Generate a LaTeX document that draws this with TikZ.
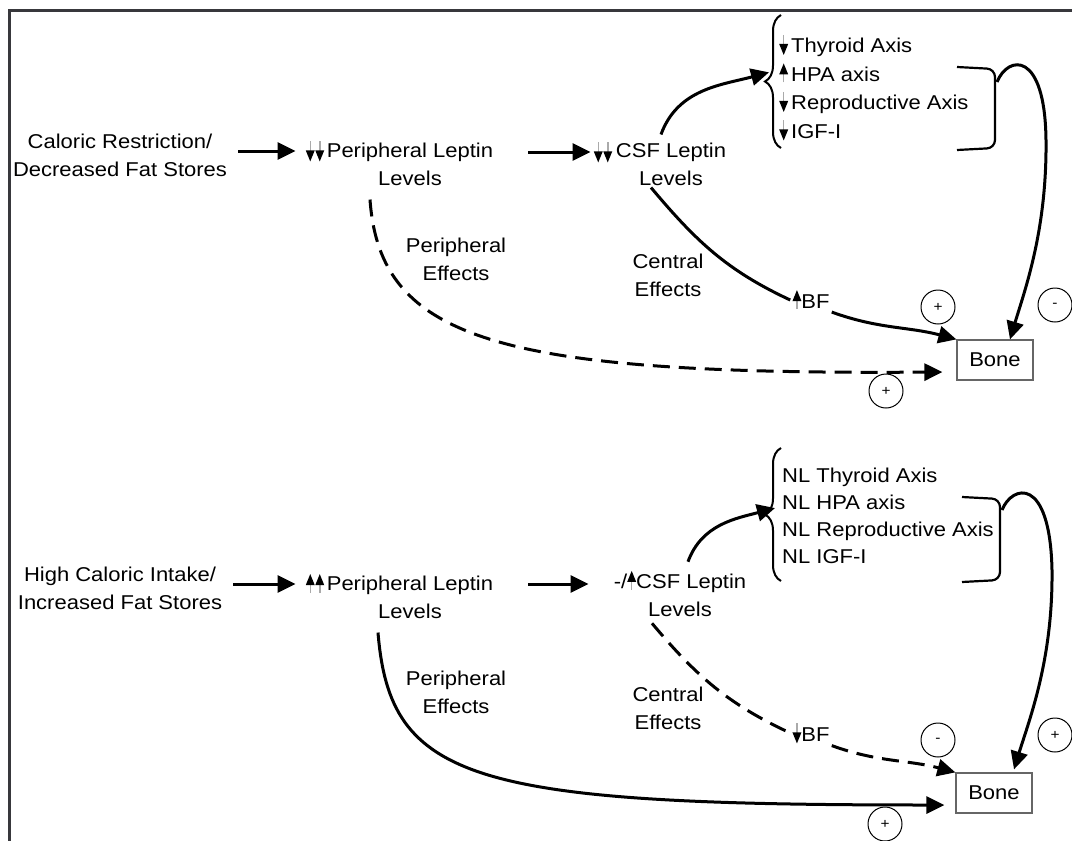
\documentclass[tikz,border=0pt]{standalone}
\usepackage{fontspec}
\setmainfont{Liberation Sans}[FakeStretch=1.1]
\usetikzlibrary{
  arrows.meta,
  decorations.pathreplacing,
}
\definecolor{framegray}{RGB}{56,56,60}
\definecolor{shaftgray}{RGB}{170,170,170}

% little up/down marks set in the text
\newcommand{\dnmark}{\tikz[baseline=0pt,x=1pt,y=1pt]{\draw[shaftgray,line width=1.5pt] (0,18)--(0,8);\fill[black] (-4.5,9)--(4.5,9)--(0,-2)--cycle;}}
\newcommand{\upmark}{\tikz[baseline=0pt,x=1pt,y=1pt]{\draw[shaftgray,line width=1.5pt] (0,-1)--(0,8);\fill[black] (-4.5,7)--(4.5,7)--(0,18)--cycle;}}

\begin{document}
\begin{tikzpicture}[
  x=1pt, y=-1pt,
  font=\fontsize{20}{28}\selectfont,
  every node/.style={inner sep=2pt},
  txt/.style={align=center},
  link/.style={line width=3pt},
  dlink/.style={link, dash pattern=on 17pt off 9pt},
  arr/.style={link, -{Triangle[length=18pt,width=17pt]}},
  darr/.style={dlink, -{Triangle[length=18pt,width=17pt]}},
  bonebox/.style={draw=gray!80!black, line width=1.2pt, minimum width=76pt, minimum height=40pt},
  signring/.style={draw, circle, line width=1pt, minimum size=34pt, inner sep=0pt, font=\fontsize{14}{14}\selectfont},
  axes/.style={align=left, anchor=north west, inner sep=1pt},
  axbrace/.style={line width=2pt, decorate, decoration={brace, amplitude=16pt}},
  axbracket/.style={line width=2.2pt, rounded corners=8pt},
]
\useasboundingbox (0,0) rectangle (1072,841);
\draw[framegray, line width=3pt] (8,10.5) -- (1072,10.5);
\draw[framegray, line width=3pt] (9.5,9) -- (9.5,841);

% restriction
\node[txt] (restrict) at (120,155) {Caloric Restriction/\\Decreased Fat Stores};
\node[inner sep=0pt] (pdnA) at (315,151) {\dnmark\hspace{0.5pt}\dnmark};
\node[txt] (plepA) at (410,164) {Peripheral Leptin\\Levels};
\node[inner sep=0pt] (cdnA) at (603,152) {\dnmark\hspace{0.5pt}\dnmark};
\node[txt] (ccsfA) at (671,164) {CSF Leptin\\Levels};
\node[axes, font=\fontsize{20}{28.5}\selectfont] (axesA) at (778,33)
  {\dnmark\hspace{3pt}Thyroid Axis\\\upmark\hspace{3pt}HPA axis\\\dnmark\hspace{3pt}Reproductive Axis\\\dnmark\hspace{3pt}IGF-I};
\node[txt] (pefA) at (456,259) {Peripheral\\Effects};
\node[txt] (cefA) at (668,275) {Central\\Effects};
\node (bfA) at (811,300) {\upmark BF};
\node[bonebox] (boneA) at (995,360) {Bone};
\node[signring] (sA1) at (938,307) {+};
\node[signring] (sA2) at (1055,305) {-};
\node[signring] (sA3) at (886,391) {+};
\draw[axbrace] (781,148) -- (781,15);
\draw[axbracket] (957,67) -- (995,69) -- (995,148) -- (957,150);
\coordinate (brkA) at (997,82);

\draw[arr, shorten <=9pt, shorten >=10pt] (restrict.east |- pdnA) -- (pdnA.west);
\draw[arr, shorten <=33pt, shorten >=3pt] (plepA.east |- cdnA) -- (cdnA.west);
\draw[arr] ([shift={(-10,-6)}]ccsfA.north) to[out=70,in=195] ([shift={(-9,-15)}]axesA.west);
\draw[link] ([xshift=-20pt]ccsfA.south) to[out=-50,in=155] (bfA.west);
\draw[arr] (bfA.south east) to[out=-20,in=165] (boneA.north west);
\draw[darr] ([shift={(-40,12)}]plepA.south) .. controls +(10,141) and +(-443,3) .. ([shift={(-14,12)}]boneA.west);
\draw[arr] (brkA) .. controls +(11,-27) and +(-1,-90) .. (1046,140) .. controls +(1,90) and +(15,-50) .. ([xshift=15pt]boneA.north);

% intake
\node[txt] (intake) at (120,588) {High Caloric Intake/\\Increased Fat Stores};
\node[inner sep=0pt] (pupB) at (315,584) {\upmark\hspace{0.5pt}\upmark};
\node[txt] (plepB) at (410,597) {Peripheral Leptin\\Levels};
\node[txt] (ccsfB) at (680,594) {-/\upmark CSF Leptin\\Levels};
\node[axes, font=\fontsize{20}{27}\selectfont] (axesB) at (781,467)
  {NL Thyroid Axis\\NL HPA axis\\NL Reproductive Axis\\NL IGF-I};
\node[txt] (pefB) at (456,692) {Peripheral\\Effects};
\node[txt] (cefB) at (668,708) {Central\\Effects};
\node (bfB) at (811,733) {\dnmark BF};
\node[bonebox] (boneB) at (994,793) {Bone};
\node[signring] (sB1) at (938,740) {-};
\node[signring] (sB2) at (1055,735) {+};
\node[signring] (sB3) at (885,824) {+};
\draw[axbrace] (781,581) -- (781,448);
\draw[axbracket] (962,497) -- (1000,499) -- (1000,580) -- (962,582);
\coordinate (brkB) at (1002,510);

\draw[arr, shorten <=9pt, shorten >=10pt] (intake.east |- pupB) -- (pupB.west);
\draw[arr, shorten <=33pt, shorten >=23pt] (plepB.east |- pupB) -- (ccsfB.west |- pupB);
\draw[arr] ([shift={(8,-7)}]ccsfB.north) to[out=70,in=195] ([shift={(-6,-8)}]axesB.west);
\draw[dlink] ([shift={(-28,4)}]ccsfB.south) to[out=-50,in=155] (bfB.west);
\draw[darr] (bfB.south east) to[out=-20,in=165] (boneB.north west);
\draw[arr] ([shift={(-32,12)}]plepB.south) .. controls +(12,148) and +(-474,0) .. ([shift={(-11,12)}]boneB.west);
\draw[arr] (brkB) .. controls +(10,-25) and +(-2,-95) .. (1052,570) .. controls +(1,90) and +(15,-49) .. ([shift={(20,-3)}]boneB.north);
\end{tikzpicture}
\end{document}
